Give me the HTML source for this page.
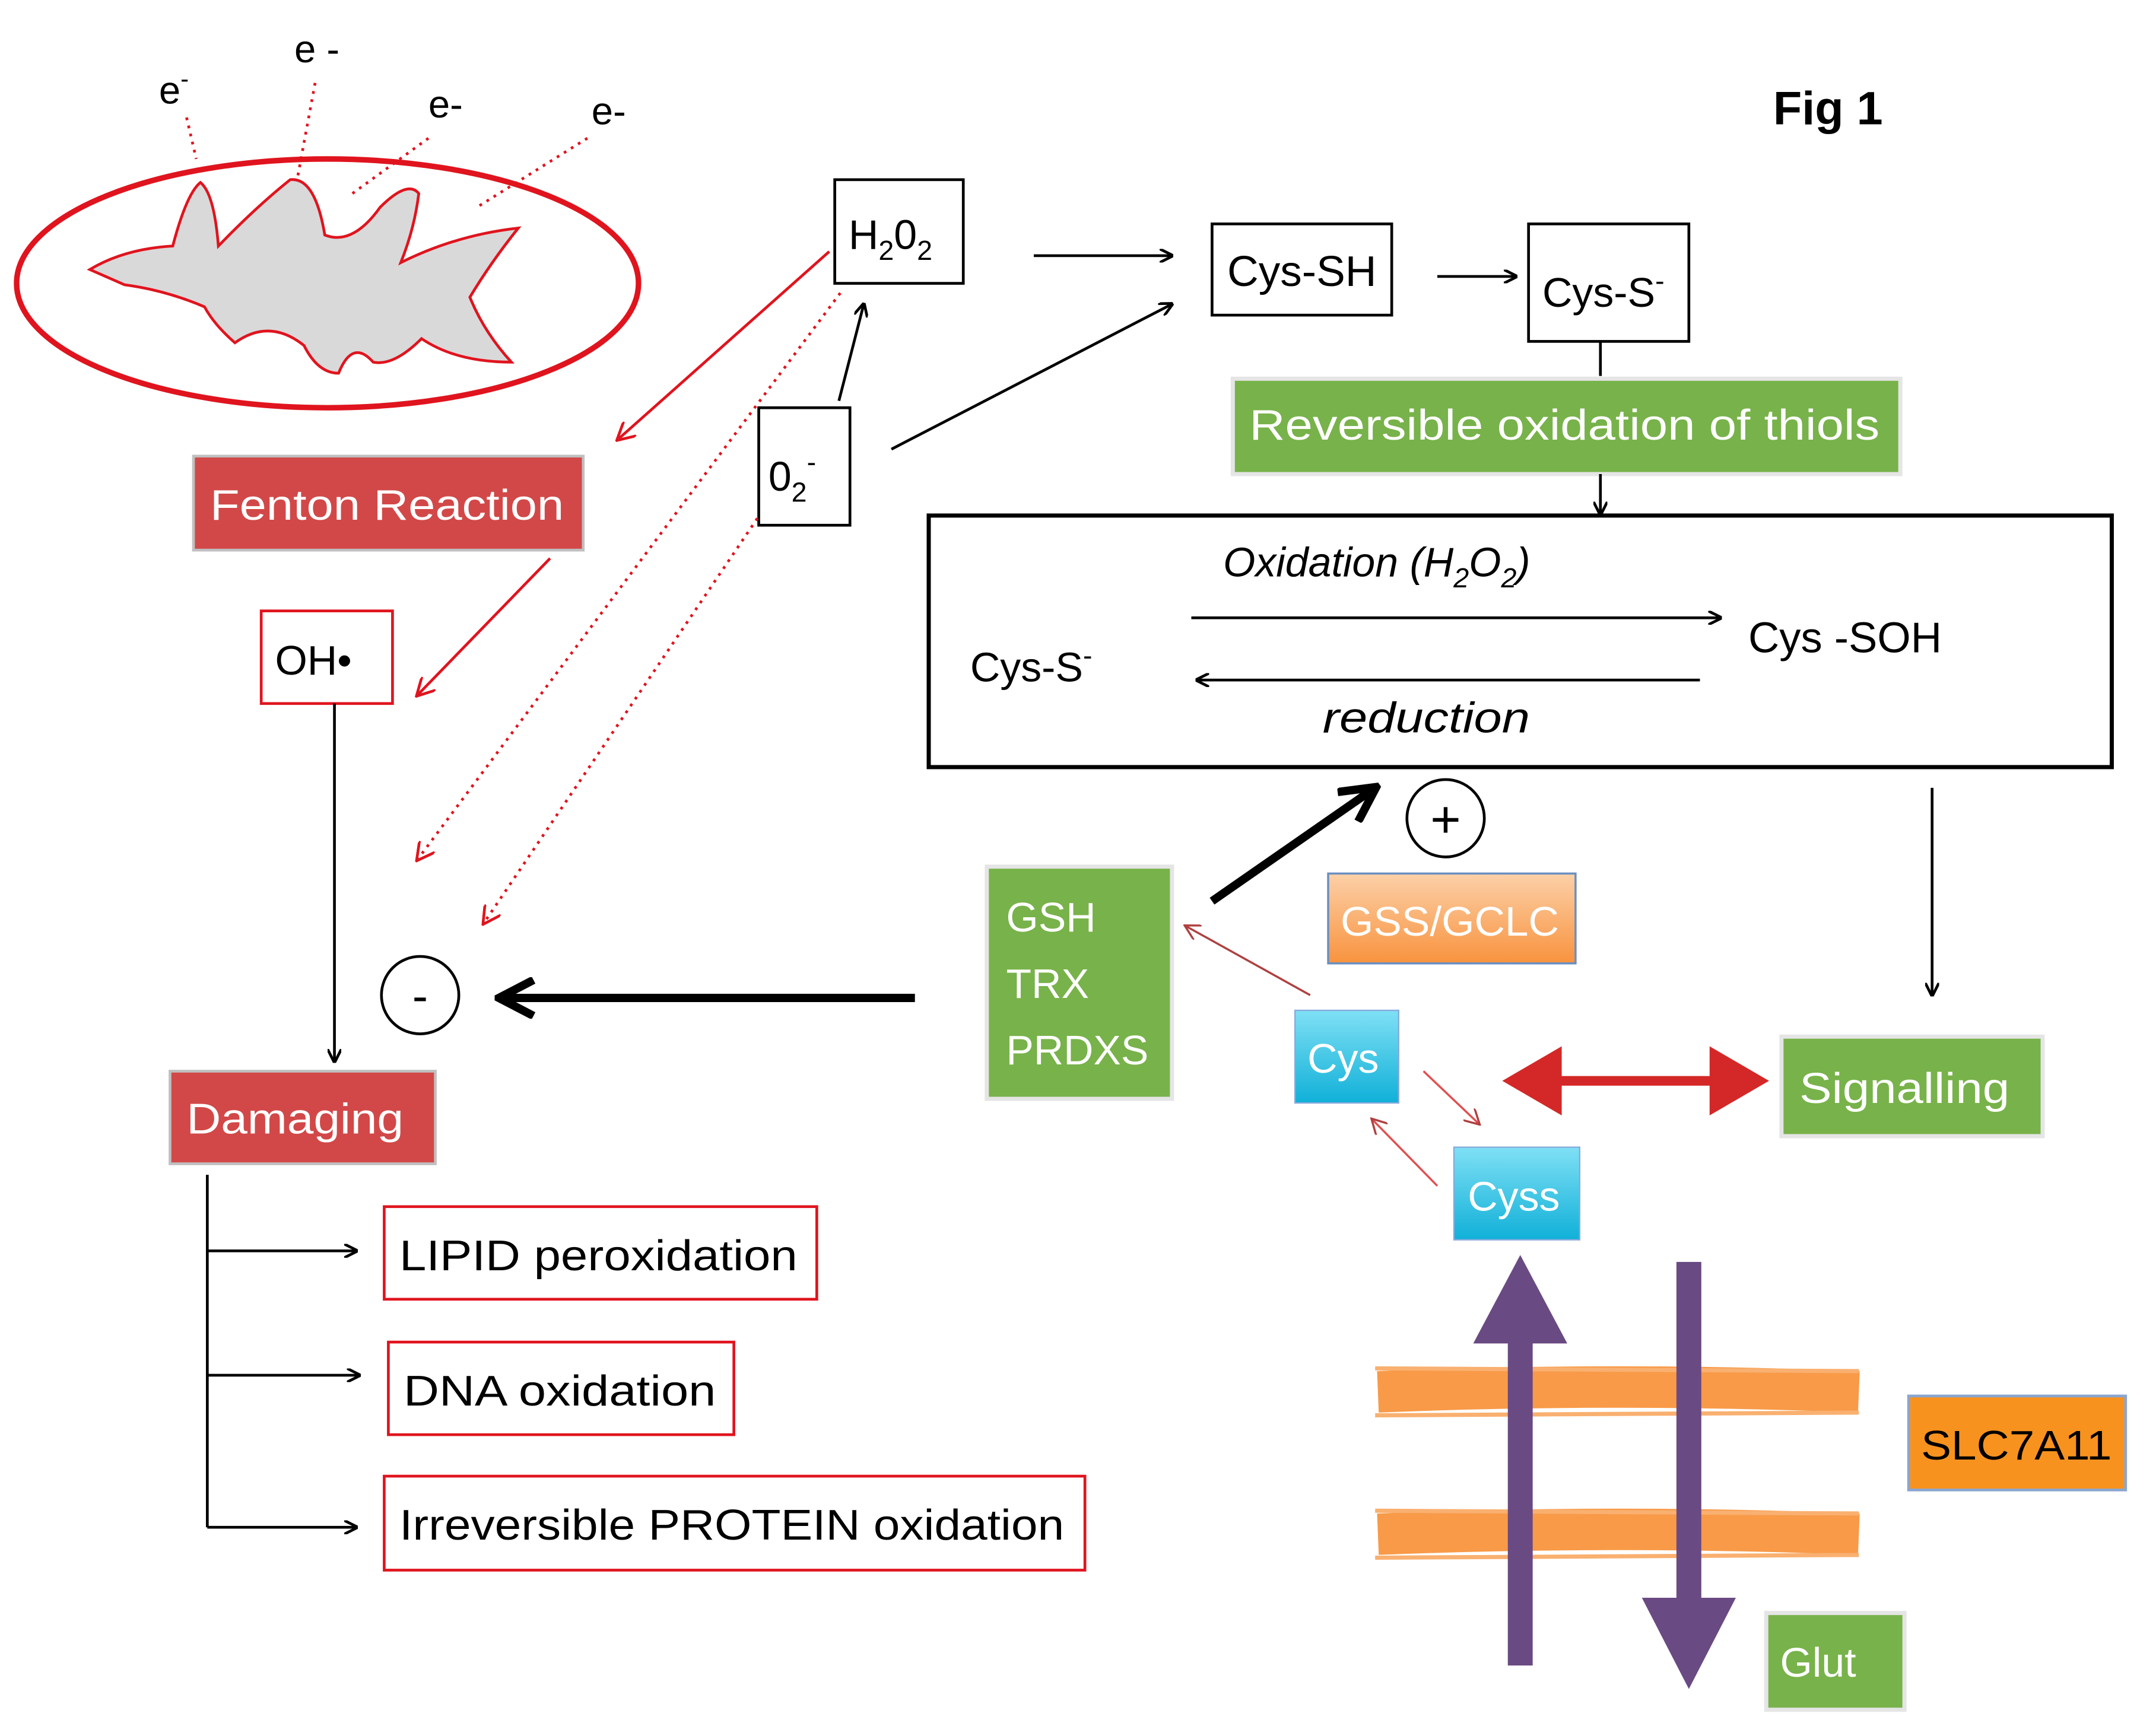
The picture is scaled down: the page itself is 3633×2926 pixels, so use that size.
<!DOCTYPE html>
<html><head><meta charset="utf-8"><style>
html,body{margin:0;padding:0;background:#fff}
svg{display:block}
text{font-family:"Liberation Sans",sans-serif}
</style></head><body>
<svg width="3633" height="2926" viewBox="0 0 1560 1256" preserveAspectRatio="none" xmlns="http://www.w3.org/2000/svg">
<defs>
<marker id="ab" markerWidth="10" markerHeight="10" refX="9" refY="5" orient="auto" markerUnits="userSpaceOnUse"><path d="M0,0 L10,5 L0,10" fill="none" stroke="#000" stroke-width="2"/></marker>
<marker id="ar" markerWidth="14" markerHeight="14" refX="12" refY="7" orient="auto" markerUnits="userSpaceOnUse"><path d="M0,0 L13,7 L0,14" fill="none" stroke="#e0141e" stroke-width="2"/></marker>
<marker id="abig" markerWidth="30" markerHeight="30" refX="26" refY="15" orient="auto" markerUnits="userSpaceOnUse"><path d="M2,2 L27,15 L2,28" fill="none" stroke="#000" stroke-width="6"/></marker>
<marker id="abr" markerWidth="12" markerHeight="12" refX="10" refY="6" orient="auto" markerUnits="userSpaceOnUse"><path d="M0,0 L11,6 L0,12" fill="none" stroke="#b04040" stroke-width="1.5"/></marker>
<linearGradient id="gor" x1="0" y1="0" x2="0" y2="1"><stop offset="0" stop-color="#fcd0a8"/><stop offset="1" stop-color="#f8933e"/></linearGradient>
<linearGradient id="gbl" x1="0" y1="0" x2="0" y2="1"><stop offset="0" stop-color="#7fe0f5"/><stop offset="1" stop-color="#10b0d8"/></linearGradient>
</defs>

<!-- mitochondrion -->
<ellipse cx="237" cy="205" rx="225" ry="90" fill="#fff" stroke="#e0141e" stroke-width="4"/>
<path d="M65,195 Q90,180 125,178 Q135,140 145,132 Q155,140 158,178 Q185,150 210,130 Q228,128 235,170 Q255,178 275,150 Q295,130 303,140 Q300,165 290,190 Q330,170 375,165 Q355,190 340,215 Q350,240 370,262 Q330,262 305,245 Q285,265 270,262 Q255,245 245,270 Q230,270 220,250 Q195,230 170,248 Q155,235 148,222 Q120,210 90,206 Z" fill="#d9d9d9" stroke="#e0141e" stroke-width="2"/>
<g stroke="#e0141e" stroke-width="2" stroke-dasharray="2,4" fill="none">
<line x1="135" y1="85" x2="142" y2="115"/>
<line x1="228" y1="60" x2="215" y2="130"/>
<line x1="310" y1="100" x2="255" y2="140"/>
<line x1="425" y1="100" x2="345" y2="150"/>
</g>
<g font-size="28" fill="#000">
<text x="115" y="75">e<tspan font-size="18" dy="-12">-</tspan></text>
<text x="213" y="45">e -</text>
<text x="310" y="85">e-</text>
<text x="428" y="90">e-</text>
</g>
<text x="1283" y="90" font-size="34" font-weight="bold">Fig 1</text>

<!-- H2O2 and O2- -->
<rect x="604" y="130" width="93" height="75" fill="#fff" stroke="#000" stroke-width="2"/>
<text x="614" y="180" font-size="30">H<tspan font-size="20" dy="8">2</tspan><tspan dy="-8">0</tspan><tspan font-size="20" dy="8">2</tspan></text>
<rect x="549" y="295" width="66" height="85" fill="#fff" stroke="#000" stroke-width="2"/>
<text x="556" y="355" font-size="30">0<tspan font-size="20" dy="8">2</tspan><tspan font-size="20" dy="-22">-</tspan></text>
<line x1="607" y1="290" x2="625" y2="220" stroke="#000" stroke-width="2" marker-end="url(#ab)"/>
<line x1="748" y1="185" x2="848" y2="185" stroke="#000" stroke-width="2" marker-end="url(#ab)"/>
<line x1="645" y1="325" x2="848" y2="220" stroke="#000" stroke-width="2" marker-end="url(#ab)"/>

<!-- Cys boxes -->
<rect x="877" y="162" width="130" height="66" fill="#fff" stroke="#000" stroke-width="2"/>
<text x="888" y="207" font-size="31" textLength="108" lengthAdjust="spacingAndGlyphs">Cys-SH</text>
<line x1="1040" y1="200" x2="1097" y2="200" stroke="#000" stroke-width="2" marker-end="url(#ab)"/>
<rect x="1106" y="162" width="116" height="85" fill="#fff" stroke="#000" stroke-width="2"/>
<text x="1116" y="222" font-size="30">Cys-S<tspan font-size="20" dy="-12">-</tspan></text>
<line x1="1158" y1="247" x2="1158" y2="272" stroke="#000" stroke-width="2"/>
<rect x="892" y="274" width="483" height="69" fill="#78b24a" stroke="#e5e5e5" stroke-width="3"/>
<text x="904" y="318" font-size="31" fill="#fff" textLength="456" lengthAdjust="spacingAndGlyphs">Reversible oxidation of thiols</text>
<line x1="1158" y1="343" x2="1158" y2="372" stroke="#000" stroke-width="2" marker-end="url(#ab)"/>

<!-- big box -->
<rect x="672" y="373" width="856" height="182" fill="#fff" stroke="#000" stroke-width="3"/>
<text x="885" y="417" font-size="30" font-style="italic">Oxidation (H<tspan font-size="20" dy="8">2</tspan><tspan dy="-8">O</tspan><tspan font-size="20" dy="8">2</tspan><tspan dy="-8">)</tspan></text>
<line x1="862" y1="447" x2="1245" y2="447" stroke="#000" stroke-width="2" marker-end="url(#ab)"/>
<line x1="1230" y1="492" x2="866" y2="492" stroke="#000" stroke-width="2" marker-end="url(#ab)"/>
<text x="1265" y="472" font-size="31" textLength="140" lengthAdjust="spacingAndGlyphs">Cys -SOH</text>
<text x="702" y="493" font-size="30">Cys-S<tspan font-size="20" dy="-12">-</tspan></text>
<text x="957" y="530" font-size="31" font-style="italic" textLength="150" lengthAdjust="spacingAndGlyphs">reduction</text>
<line x1="1398" y1="570" x2="1398" y2="720" stroke="#000" stroke-width="2" marker-end="url(#ab)"/>

<!-- left chain -->
<line x1="600" y1="182" x2="447" y2="318" stroke="#e0141e" stroke-width="2" marker-end="url(#ar)"/>
<g stroke="#e0141e" stroke-width="2" stroke-dasharray="2,4" fill="none">
<line x1="608" y1="212" x2="302" y2="622" marker-end="url(#ar)"/>
<line x1="548" y1="375" x2="350" y2="668" marker-end="url(#ar)"/>
</g>
<rect x="140" y="330" width="282" height="68" fill="#d24848" stroke="#c0c0c0" stroke-width="2"/>
<text x="152" y="376" font-size="31" fill="#fff" textLength="256" lengthAdjust="spacingAndGlyphs">Fenton Reaction</text>
<line x1="398" y1="404" x2="302" y2="503" stroke="#e0141e" stroke-width="2" marker-end="url(#ar)"/>
<rect x="189" y="442" width="95" height="67" fill="#fff" stroke="#e0141e" stroke-width="2"/>
<text x="199" y="488" font-size="30">OH•</text>
<line x1="242" y1="509" x2="242" y2="768" stroke="#000" stroke-width="2" marker-end="url(#ab)"/>
<circle cx="304" cy="720" r="28" fill="#fff" stroke="#000" stroke-width="2"/>
<text x="304" y="732" font-size="34" text-anchor="middle">-</text>
<line x1="662" y1="722" x2="362" y2="722" stroke="#000" stroke-width="6" marker-end="url(#abig)"/>
<rect x="123" y="775" width="192" height="67" fill="#d24848" stroke="#c0c0c0" stroke-width="2"/>
<text x="135" y="820" font-size="31" fill="#fff" textLength="157" lengthAdjust="spacingAndGlyphs">Damaging</text>
<path d="M150,850 L150,1105" stroke="#000" stroke-width="2" fill="none"/>
<line x1="150" y1="905" x2="258" y2="905" stroke="#000" stroke-width="2" marker-end="url(#ab)"/>
<line x1="150" y1="995" x2="260" y2="995" stroke="#000" stroke-width="2" marker-end="url(#ab)"/>
<line x1="150" y1="1105" x2="258" y2="1105" stroke="#000" stroke-width="2" marker-end="url(#ab)"/>
<rect x="278" y="873" width="313" height="67" fill="#fff" stroke="#e0141e" stroke-width="2"/>
<text x="289" y="919" font-size="31" textLength="288" lengthAdjust="spacingAndGlyphs">LIPID peroxidation</text>
<rect x="281" y="971" width="250" height="67" fill="#fff" stroke="#e0141e" stroke-width="2"/>
<text x="292" y="1017" font-size="31" textLength="226" lengthAdjust="spacingAndGlyphs">DNA oxidation</text>
<rect x="278" y="1068" width="507" height="68" fill="#fff" stroke="#e0141e" stroke-width="2"/>
<text x="289" y="1114" font-size="31" textLength="481" lengthAdjust="spacingAndGlyphs">Irreversible PROTEIN oxidation</text>

<!-- right lower -->
<line x1="877" y1="652" x2="995" y2="570" stroke="#000" stroke-width="6" marker-end="url(#abig)"/>
<circle cx="1046" cy="592" r="28" fill="#fff" stroke="#000" stroke-width="2"/>
<text x="1046" y="606" font-size="38" text-anchor="middle">+</text>
<rect x="714" y="627" width="134" height="168" fill="#78b24a" stroke="#e5e5e5" stroke-width="3"/>
<text x="728" y="674" font-size="30" fill="#fff">GSH</text>
<text x="728" y="722" font-size="30" fill="#fff">TRX</text>
<text x="728" y="770" font-size="30" fill="#fff" textLength="103" lengthAdjust="spacingAndGlyphs">PRDXS</text>
<rect x="961" y="632" width="179" height="65" fill="url(#gor)" stroke="#6a8fc0" stroke-width="1.5"/>
<text x="970" y="677" font-size="30" fill="#fff" textLength="158" lengthAdjust="spacingAndGlyphs">GSS/GCLC</text>
<line x1="948" y1="720" x2="858" y2="670" stroke="#b04040" stroke-width="1.5" marker-end="url(#abr)"/>
<rect x="937" y="731" width="75" height="67" fill="url(#gbl)" stroke="#8ad" stroke-width="1"/>
<text x="946" y="776" font-size="30" fill="#fff">Cys</text>
<line x1="1030" y1="775" x2="1070" y2="813" stroke="#e05050" stroke-width="1.5" marker-end="url(#abr)"/>
<line x1="1040" y1="858" x2="993" y2="810" stroke="#e05050" stroke-width="1.5" marker-end="url(#abr)"/>
<rect x="1052" y="830" width="91" height="67" fill="url(#gbl)" stroke="#8ad" stroke-width="1"/>
<text x="1062" y="876" font-size="30" fill="#fff">Cyss</text>
<!-- signalling double arrow -->
<line x1="1120" y1="782" x2="1245" y2="782" stroke="#d42828" stroke-width="7"/>
<path d="M1087,782 L1130,757 L1130,807 Z" fill="#d42828"/>
<path d="M1280,782 L1237,757 L1237,807 Z" fill="#d42828"/>
<rect x="1289" y="750" width="189" height="72" fill="#78b24a" stroke="#e5e5e5" stroke-width="3"/>
<text x="1302" y="798" font-size="31" fill="#fff" textLength="152" lengthAdjust="spacingAndGlyphs">Signalling</text>

<!-- membranes -->
<g stroke="#f89a48" stroke-width="30" fill="none">
<path d="M997,1007 Q1170,1000 1345,1007"/>
<path d="M997,1110 Q1170,1103 1345,1110"/>
</g>
<g stroke="#f9b070" stroke-width="3" fill="none">
<path d="M995,990 L1345,992"/><path d="M995,1024 L1345,1022"/>
<path d="M995,1093 L1345,1095"/><path d="M995,1127 L1345,1125"/>
</g>
<!-- purple arrows -->
<rect x="1091" y="965" width="18" height="240" fill="#6a4a82"/>
<path d="M1100,908 L1134,972 L1066,972 Z" fill="#6a4a82"/>
<rect x="1213" y="913" width="18" height="250" fill="#6a4a82"/>
<path d="M1222,1222 L1188,1156 L1256,1156 Z" fill="#6a4a82"/>
<rect x="1381" y="1010" width="157" height="68" fill="#f8921e" stroke="#8aa6d0" stroke-width="2"/>
<text x="1390" y="1056" font-size="30" fill="#000" textLength="138" lengthAdjust="spacingAndGlyphs">SLC7A11</text>
<rect x="1278" y="1167" width="100" height="70" fill="#78b24a" stroke="#e5e5e5" stroke-width="3"/>
<text x="1288" y="1213" font-size="30" fill="#fff">Glut</text>
</svg>
</body></html>
